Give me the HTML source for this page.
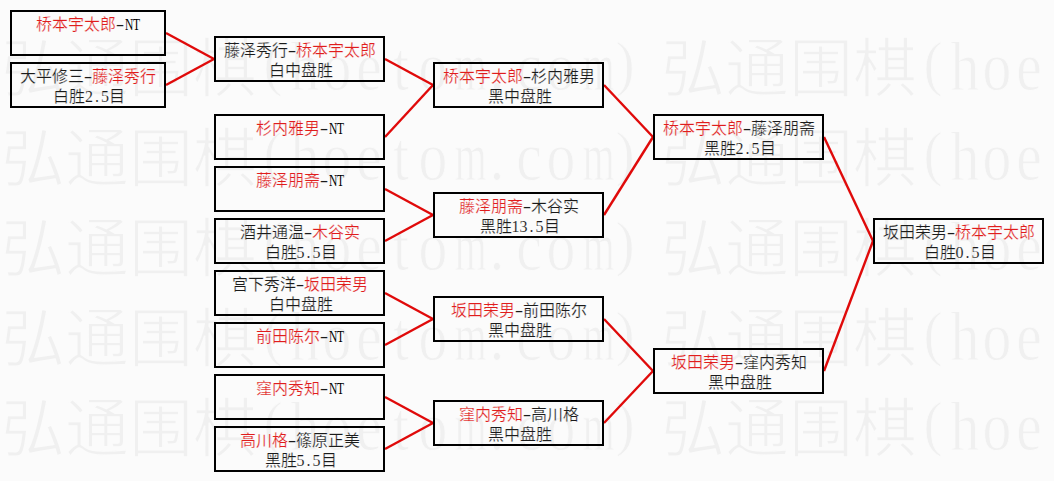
<!DOCTYPE html>
<html lang="zh-CN"><head><meta charset="utf-8"><style>
html,body{margin:0;padding:0;}
body{width:1054px;height:481px;overflow:hidden;background:#fbfbfb;position:relative;font-family:"Liberation Serif",serif;}
.wm{position:absolute;left:0;top:0;width:1054px;height:481px;overflow:hidden;color:#f0f0f0;-webkit-text-stroke:1.4px #fbfbfb;font-size:64px;line-height:90px;white-space:nowrap;}
.wm div{position:absolute;}
.wm i{font-style:normal;display:inline-block;width:32px;text-align:center;transform:translateY(-3px) scale(.9,1.08);-webkit-text-stroke:0.8px #fbfbfb;}
.wm i.m{transform:translateY(-3px) scale(.64,1.08);}
.wm i.p{transform:translateY(-6px) scale(.9,.95);}
.bx{position:absolute;height:42px;border:2px solid #000;}
.t{position:absolute;left:0;right:0;text-align:center;font-size:16px;line-height:20px;height:20px;white-space:nowrap;color:#1a1a1a;-webkit-text-stroke:0.22px #fbfbfb;}
.t i{font-style:normal;display:inline-block;width:8px;text-align:center;}
.t i.n{transform:scaleX(.72);-webkit-text-stroke:0;color:#000;}
.t i{-webkit-text-stroke:0.1px #fbfbfb;}
.t i.h{transform:scaleX(1.6);}
.t b{font-weight:normal;color:#e01c1c;}
svg{position:absolute;left:0;top:0;}
</style></head><body>
<div class="wm"><div style="left:1px;top:25px">弘通围棋<i class="p">(</i><i class="">h</i><i class="">o</i><i class="">e</i><i class="">t</i><i class="">o</i><i class="m">m</i><i class="">.</i><i class="">c</i><i class="">o</i><i class="m">m</i><i class="p">)</i></div><div style="left:661px;top:25px">弘通围棋<i class="p">(</i><i class="">h</i><i class="">o</i><i class="">e</i><i class="">t</i><i class="">o</i><i class="m">m</i><i class="">.</i><i class="">c</i><i class="">o</i><i class="m">m</i><i class="p">)</i></div><div style="left:1px;top:115px">弘通围棋<i class="p">(</i><i class="">h</i><i class="">o</i><i class="">e</i><i class="">t</i><i class="">o</i><i class="m">m</i><i class="">.</i><i class="">c</i><i class="">o</i><i class="m">m</i><i class="p">)</i></div><div style="left:661px;top:115px">弘通围棋<i class="p">(</i><i class="">h</i><i class="">o</i><i class="">e</i><i class="">t</i><i class="">o</i><i class="m">m</i><i class="">.</i><i class="">c</i><i class="">o</i><i class="m">m</i><i class="p">)</i></div><div style="left:1px;top:205px">弘通围棋<i class="p">(</i><i class="">h</i><i class="">o</i><i class="">e</i><i class="">t</i><i class="">o</i><i class="m">m</i><i class="">.</i><i class="">c</i><i class="">o</i><i class="m">m</i><i class="p">)</i></div><div style="left:661px;top:205px">弘通围棋<i class="p">(</i><i class="">h</i><i class="">o</i><i class="">e</i><i class="">t</i><i class="">o</i><i class="m">m</i><i class="">.</i><i class="">c</i><i class="">o</i><i class="m">m</i><i class="p">)</i></div><div style="left:1px;top:295px">弘通围棋<i class="p">(</i><i class="">h</i><i class="">o</i><i class="">e</i><i class="">t</i><i class="">o</i><i class="m">m</i><i class="">.</i><i class="">c</i><i class="">o</i><i class="m">m</i><i class="p">)</i></div><div style="left:661px;top:295px">弘通围棋<i class="p">(</i><i class="">h</i><i class="">o</i><i class="">e</i><i class="">t</i><i class="">o</i><i class="m">m</i><i class="">.</i><i class="">c</i><i class="">o</i><i class="m">m</i><i class="p">)</i></div><div style="left:1px;top:385px">弘通围棋<i class="p">(</i><i class="">h</i><i class="">o</i><i class="">e</i><i class="">t</i><i class="">o</i><i class="m">m</i><i class="">.</i><i class="">c</i><i class="">o</i><i class="m">m</i><i class="p">)</i></div><div style="left:661px;top:385px">弘通围棋<i class="p">(</i><i class="">h</i><i class="">o</i><i class="">e</i><i class="">t</i><i class="">o</i><i class="m">m</i><i class="">.</i><i class="">c</i><i class="">o</i><i class="m">m</i><i class="p">)</i></div></div>
<svg width="1054" height="481"><g stroke="#e00a0a" stroke-width="2.4"><line x1="166" y1="33.0" x2="214" y2="59.0"/><line x1="166" y1="85.0" x2="214" y2="59.0"/><line x1="385" y1="59.0" x2="433" y2="85.0"/><line x1="385" y1="137.0" x2="433" y2="85.0"/><line x1="385" y1="189.0" x2="433" y2="215.0"/><line x1="385" y1="241.0" x2="433" y2="215.0"/><line x1="385" y1="293.0" x2="433" y2="319.0"/><line x1="385" y1="345.0" x2="433" y2="319.0"/><line x1="385" y1="397.0" x2="433" y2="423.0"/><line x1="385" y1="449.0" x2="433" y2="423.0"/><line x1="604" y1="85.0" x2="653" y2="137.0"/><line x1="604" y1="215.0" x2="653" y2="137.0"/><line x1="604" y1="319.0" x2="653" y2="371.0"/><line x1="604" y1="423.0" x2="653" y2="371.0"/><line x1="824" y1="137.0" x2="873" y2="241.0"/><line x1="824" y1="371.0" x2="873" y2="241.0"/></g></svg>
<div class="bx" style="left:10px;top:10px;width:152px"><div class="t" style="top:3px"><b>桥本宇太郎</b><i class="h">-</i><i class="n">N</i><i class="n">T</i></div></div>
<div class="bx" style="left:10px;top:62px;width:152px"><div class="t" style="top:3px">大平修三<i class="h">-</i><b>藤泽秀行</b></div><div class="t" style="top:23px;left:2px;right:0">白胜<i>2</i><i>.</i><i>5</i>目</div></div>
<div class="bx" style="left:214px;top:36px;width:167px"><div class="t" style="top:3px">藤泽秀行<i class="h">-</i><b>桥本宇太郎</b></div><div class="t" style="top:23px;left:2px;right:0">白中盘胜</div></div>
<div class="bx" style="left:214px;top:114px;width:167px"><div class="t" style="top:3px"><b>杉内雅男</b><i class="h">-</i><i class="n">N</i><i class="n">T</i></div></div>
<div class="bx" style="left:214px;top:166px;width:167px"><div class="t" style="top:3px"><b>藤泽朋斋</b><i class="h">-</i><i class="n">N</i><i class="n">T</i></div></div>
<div class="bx" style="left:214px;top:218px;width:167px"><div class="t" style="top:3px">酒井通温<i class="h">-</i><b>木谷实</b></div><div class="t" style="top:23px;left:2px;right:0">白胜<i>5</i><i>.</i><i>5</i>目</div></div>
<div class="bx" style="left:214px;top:270px;width:167px"><div class="t" style="top:3px">宫下秀洋<i class="h">-</i><b>坂田荣男</b></div><div class="t" style="top:23px;left:2px;right:0">白中盘胜</div></div>
<div class="bx" style="left:214px;top:322px;width:167px"><div class="t" style="top:3px"><b>前田陈尔</b><i class="h">-</i><i class="n">N</i><i class="n">T</i></div></div>
<div class="bx" style="left:214px;top:374px;width:167px"><div class="t" style="top:3px"><b>窪内秀知</b><i class="h">-</i><i class="n">N</i><i class="n">T</i></div></div>
<div class="bx" style="left:214px;top:426px;width:167px"><div class="t" style="top:3px"><b>高川格</b><i class="h">-</i>篠原正美</div><div class="t" style="top:23px;left:2px;right:0">黑胜<i>5</i><i>.</i><i>5</i>目</div></div>
<div class="bx" style="left:433px;top:62px;width:167px"><div class="t" style="top:3px"><b>桥本宇太郎</b><i class="h">-</i>杉内雅男</div><div class="t" style="top:23px;left:2px;right:0">黑中盘胜</div></div>
<div class="bx" style="left:433px;top:192px;width:167px"><div class="t" style="top:3px"><b>藤泽朋斋</b><i class="h">-</i>木谷实</div><div class="t" style="top:23px;left:2px;right:0">黑胜<i>1</i><i>3</i><i>.</i><i>5</i>目</div></div>
<div class="bx" style="left:433px;top:296px;width:167px"><div class="t" style="top:3px"><b>坂田荣男</b><i class="h">-</i>前田陈尔</div><div class="t" style="top:23px;left:2px;right:0">黑中盘胜</div></div>
<div class="bx" style="left:433px;top:400px;width:167px"><div class="t" style="top:3px"><b>窪内秀知</b><i class="h">-</i>高川格</div><div class="t" style="top:23px;left:2px;right:0">黑中盘胜</div></div>
<div class="bx" style="left:653px;top:114px;width:167px"><div class="t" style="top:3px"><b>桥本宇太郎</b><i class="h">-</i>藤泽朋斋</div><div class="t" style="top:23px;left:2px;right:0">黑胜<i>2</i><i>.</i><i>5</i>目</div></div>
<div class="bx" style="left:653px;top:348px;width:167px"><div class="t" style="top:3px"><b>坂田荣男</b><i class="h">-</i>窪内秀知</div><div class="t" style="top:23px;left:2px;right:0">黑中盘胜</div></div>
<div class="bx" style="left:873px;top:218px;width:167px"><div class="t" style="top:3px">坂田荣男<i class="h">-</i><b>桥本宇太郎</b></div><div class="t" style="top:23px;left:2px;right:0">白胜<i>0</i><i>.</i><i>5</i>目</div></div>
</body></html>
